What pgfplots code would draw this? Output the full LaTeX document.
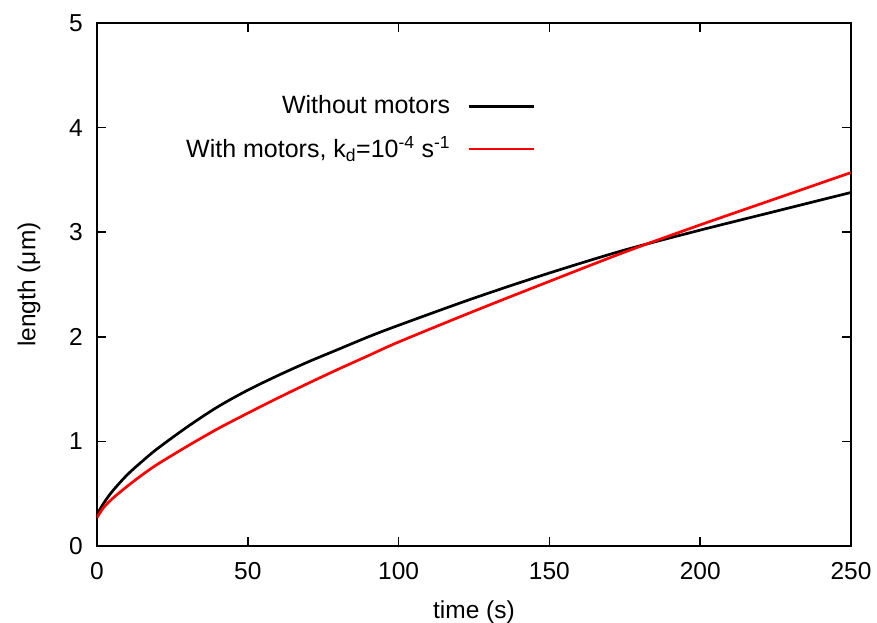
\documentclass[border=0pt]{standalone}
\usepackage{fontspec}
\setmainfont{Liberation Sans}
\usepackage{pgfplots}
\pgfplotsset{compat=1.18}
\begin{document}
\fontsize{24.5pt}{29pt}\selectfont
\begin{tikzpicture}
\useasboundingbox (-97pt,-76pt) rectangle (780pt,546pt);
\begin{axis}[
  at={(0pt,0pt)}, anchor=south west,
  scale only axis, width=754pt, height=523pt,
  xmin=0, xmax=250, ymin=0, ymax=5,
  xtick={0,50,100,150,200,250}, ytick={0,1,2,3,4,5},
  tick align=inside, major tick length=9pt,
  minor tick num=0,
  axis line style={line width=2pt},
  tick style={line width=1.5pt, black},
  /pgf/number format/assume math mode=true,
  ticklabel style={font=\fontsize{24.5pt}{29pt}\selectfont},
  xticklabel style={yshift=-8pt},
  yticklabel style={xshift=-6pt},
  label style={font=\fontsize{24.5pt}{29pt}\selectfont},
  xlabel={time (s)}, ylabel={length (μm)},
  xlabel style={yshift=-4pt},
  ylabel style={yshift=12pt},
  legend plot pos=right,
  legend cell align=right,
  legend style={draw=none, fill=none, at={(0.585,0.869)}, anchor=north east,
    font=\fontsize{25pt}{30pt}\selectfont, row sep=15pt},
  legend image code/.code={\path (0pt,0pt); \draw[#1] (15pt,0pt) -- (80pt,0pt);},
]
\addplot[black, line width=2.7pt, smooth] coordinates {
(0,0.30) (2,0.40) (5,0.52) (10,0.68) (15,0.81) (20,0.93) (30,1.14) (40,1.33)
(50,1.49) (60,1.63) (70,1.76) (80,1.88) (90,2.00) (100,2.11) (125,2.37)
(150,2.61) (175,2.83) (200,3.02) (225,3.20) (250,3.38)};
\addlegendentry{Without motors}
\addplot[red, line width=2.7pt, smooth] coordinates {
(0,0.27) (2,0.36) (5,0.45) (10,0.57) (15,0.68) (20,0.78) (30,0.955) (40,1.12)
(50,1.27) (60,1.415) (70,1.555) (80,1.69) (90,1.82) (100,1.95) (125,2.245)
(150,2.53) (175,2.81) (200,3.07) (225,3.32) (250,3.57)};
\addlegendentry{With motors, k\textsubscript{d}=10\textsuperscript{-4} s\textsuperscript{-1}}
\end{axis}
\end{tikzpicture}
\end{document}
